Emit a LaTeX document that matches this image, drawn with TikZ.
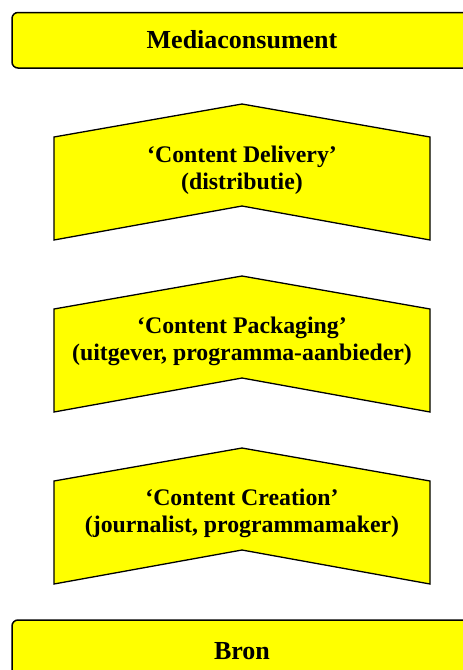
\documentclass[tikz,border=0pt]{standalone}
\usepackage{fontspec}
\setmainfont{Liberation Serif}
\definecolor{yel}{RGB}{255,255,0}
\begin{document}
\begin{tikzpicture}[x=1pt,y=-1pt,
  boxshape/.style={draw=black,fill=yel,line width=1.5pt,rounded corners=6pt},
  chev/.style={draw=black,fill=yel,line width=1.3pt,line join=miter},
  titletext/.style={font=\fontsize{26}{30}\selectfont\bfseries,inner sep=0pt},
  chevtext/.style={font=\fontsize{23.8}{27}\selectfont\bfseries,align=center,inner sep=0pt}]
\useasboundingbox (0,0) rectangle (463,670);
\clip (0,0) rectangle (463,670);
% top box
\draw[boxshape] (12,12.5) rectangle (480,68);
\node[titletext] (mc) at (242,40) {Mediaconsument};
% chevrons
\foreach \dy/\nm in {0/cd,172/cp,344/cc}{
  \draw[chev] (54,137+\dy) -- (242,104+\dy) -- (430,137+\dy) -- (430,240+\dy)
     -- (242,206+\dy) -- (54,240+\dy) -- cycle;
}
\node[chevtext] (cd) at (242,170) {‘Content Delivery’\\(distributie)};
\node[chevtext] (cp) at (242,341) {‘Content Packaging’\\(uitgever, programma-aanbieder)};
\node[chevtext] (cc) at (242,513) {‘Content Creation’\\(journalist, programmamaker)};
% bottom box
\draw[boxshape] (12,620) rectangle (480,700);
\node[titletext] (bron) at (242,651) {Bron};
\end{tikzpicture}
\end{document}
